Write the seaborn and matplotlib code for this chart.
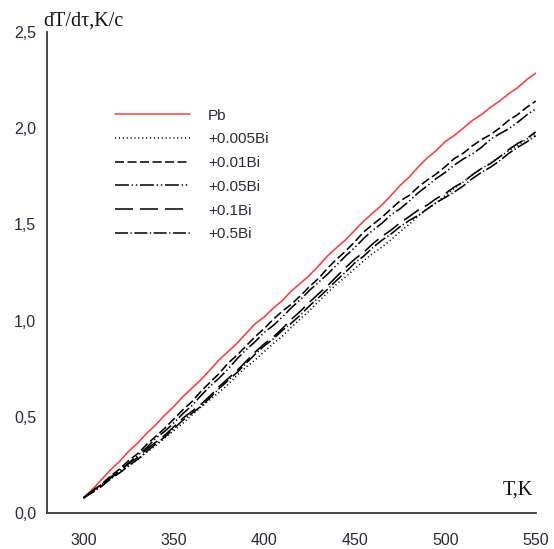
import matplotlib
matplotlib.use("Agg")
import matplotlib.pyplot as plt
import seaborn as sns
import pandas as pd
from matplotlib import font_manager as fm

# ---------------- data ----------------
T = [300, 305, 310, 315, 320, 325, 330, 335, 340, 345, 350, 355, 360, 365,
     370, 375, 380, 385, 390, 395, 400, 405, 410, 415, 420, 425, 430, 435,
     440, 445, 450, 455, 460, 465, 470, 475, 480, 485, 490, 495, 500, 505,
     510, 515, 520, 525, 530, 535, 540, 545, 550]

pb = [0.080, 0.125, 0.175, 0.226, 0.270, 0.322, 0.365, 0.416, 0.460, 0.510,
      0.555, 0.606, 0.650, 0.694, 0.745, 0.797, 0.840, 0.884, 0.935, 0.985,
      1.020, 1.066, 1.105, 1.155, 1.195, 1.236, 1.285, 1.337, 1.380, 1.421,
      1.470, 1.518, 1.560, 1.601, 1.650, 1.702, 1.745, 1.798, 1.845, 1.883,
      1.930, 1.962, 2.000, 2.040, 2.070, 2.108, 2.140, 2.178, 2.210, 2.251,
      2.285]
bi0005 = [0.080, 0.112, 0.150, 0.182, 0.210, 0.247, 0.280, 0.318, 0.350, 0.392,
          0.430, 0.468, 0.510, 0.552, 0.590, 0.628, 0.670, 0.718, 0.760, 0.797,
          0.840, 0.882, 0.920, 0.967, 1.010, 1.052, 1.100, 1.146, 1.190, 1.228,
          1.270, 1.312, 1.350, 1.382, 1.420, 1.462, 1.500, 1.543, 1.580, 1.612,
          1.650, 1.687, 1.720, 1.757, 1.790, 1.818, 1.850, 1.882, 1.910, 1.943,
          1.970]
bi001 = [0.080, 0.118, 0.150, 0.194, 0.230, 0.274, 0.310, 0.358, 0.400, 0.442,
         0.490, 0.538, 0.580, 0.634, 0.680, 0.726, 0.780, 0.822, 0.870, 0.918,
         0.960, 1.008, 1.050, 1.086, 1.130, 1.178, 1.220, 1.273, 1.320, 1.362,
         1.410, 1.462, 1.500, 1.537, 1.580, 1.622, 1.650, 1.694, 1.730, 1.762,
         1.800, 1.842, 1.870, 1.908, 1.940, 1.966, 2.000, 2.040, 2.070, 2.108,
         2.140]
bi005 = [0.080, 0.112, 0.150, 0.188, 0.220, 0.262, 0.300, 0.342, 0.390, 0.426,
         0.470, 0.518, 0.560, 0.612, 0.660, 0.702, 0.750, 0.803, 0.850, 0.892,
         0.940, 0.976, 1.020, 1.068, 1.110, 1.158, 1.200, 1.242, 1.290, 1.337,
         1.380, 1.428, 1.470, 1.506, 1.550, 1.581, 1.620, 1.664, 1.700, 1.738,
         1.770, 1.808, 1.840, 1.866, 1.900, 1.942, 1.970, 1.996, 2.030, 2.068,
         2.100]
bi01 = [0.080, 0.118, 0.150, 0.182, 0.220, 0.258, 0.290, 0.333, 0.370, 0.406,
        0.450, 0.494, 0.530, 0.566, 0.610, 0.658, 0.700, 0.742, 0.790, 0.838,
        0.880, 0.916, 0.960, 1.008, 1.050, 1.097, 1.140, 1.182, 1.230, 1.277,
        1.320, 1.356, 1.400, 1.438, 1.470, 1.508, 1.540, 1.574, 1.600, 1.634,
        1.660, 1.694, 1.720, 1.758, 1.790, 1.816, 1.850, 1.888, 1.920, 1.946,
        1.980]
bi05 = [0.080, 0.108, 0.140, 0.178, 0.210, 0.247, 0.280, 0.322, 0.360, 0.397,
        0.440, 0.484, 0.520, 0.556, 0.600, 0.648, 0.690, 0.732, 0.780, 0.827,
        0.870, 0.906, 0.950, 0.988, 1.030, 1.078, 1.120, 1.164, 1.210, 1.253,
        1.300, 1.336, 1.380, 1.418, 1.450, 1.488, 1.520, 1.546, 1.580, 1.613,
        1.640, 1.668, 1.700, 1.738, 1.770, 1.797, 1.830, 1.868, 1.900, 1.928,
        1.960]

series_names = ["Pb", "+0.005Bi", "+0.01Bi", "+0.05Bi", "+0.1Bi", "+0.5Bi"]
series_vals = [pb, bi0005, bi001, bi005, bi01, bi05]

xticks = [300, 350, 400, 450, 500, 550]
xticklabels = ["300", "350", "400", "450", "500", "550"]
yticks = [0.0, 0.5, 1.0, 1.5, 2.0, 2.5]
yticklabels = ["0,0", "0,5", "1,0", "1,5", "2,0", "2,5"]

rows = []
for name, vals in zip(series_names, series_vals):
    for t, v in zip(T, vals):
        rows.append({"T": t, "v": v, "s": name})
df = pd.DataFrame(rows)

# ---------------- style ----------------
sns.set_style("white")
names = {f.name for f in fm.fontManager.ttflist}
narrow = "Liberation Sans Narrow" if "Liberation Sans Narrow" in names else "Liberation Sans"
plt.rcParams["font.family"] = [narrow, "DejaVu Sans"]
plt.rcParams["lines.scale_dashes"] = False

W, H = 554, 549
fig = plt.figure(figsize=(W / 100, H / 100), dpi=100)
ax = fig.add_axes([47.3 / W, 1 - 513.3 / H, (535.7 - 47.3) / W, (513.3 - 31.8) / H])

palette = {"Pb": "#ff3b3b", "+0.005Bi": "black", "+0.01Bi": "black",
           "+0.05Bi": "black", "+0.1Bi": "black", "+0.5Bi": "black"}
dashes = {"Pb": "",
          "+0.005Bi": (0.8, 2.0),
          "+0.01Bi": (6.5, 2.5),
          "+0.05Bi": (10, 2, 1, 2, 1, 2),
          "+0.1Bi": (13, 5),
          "+0.5Bi": (9.4, 1.8, 0.9, 1.8)}

sns.lineplot(data=df, x="T", y="v", hue="s", style="s", hue_order=series_names,
             style_order=series_names, palette=palette, dashes=dashes,
             linewidth=1.15, ax=ax, legend=True, sort=False)

ax.set_xlim(280, 550)
ax.set_ylim(0, 2.5)
ax.set_xticks(xticks)
ax.set_xticklabels(xticklabels)
ax.set_yticks(yticks)
ax.set_yticklabels(yticklabels)
ax.set_xlabel("")
ax.set_ylabel("")

for side in ["top", "right"]:
    ax.spines[side].set_visible(False)
for side in ["left", "bottom"]:
    ax.spines[side].set_color("#3a3a3a")
    ax.spines[side].set_linewidth(1.3)

ax.tick_params(axis="both", colors="#3a3a3a", labelcolor="#2b2b3c",
               labelsize=11.5, width=1.2, direction="out")
ax.tick_params(axis="x", length=6, pad=8)
ax.tick_params(axis="y", length=4, pad=4)

h, l = ax.get_legend_handles_labels()
for hh in h:
    hh.set_linewidth(1.1)
leg = ax.legend(h, l, loc="upper left", bbox_to_anchor=(115 / W, 1 - 108.5 / H),
                bbox_transform=fig.transFigure, frameon=False, fontsize=11,
                handlelength=4.9, handletextpad=1.2, labelspacing=0.64,
                borderpad=0, borderaxespad=0)
for t in leg.get_texts():
    t.set_color("#2b2b3c")

fig.text(43 / W, 1 - 26 / H, "dT/dτ,K/c", family=["Liberation Serif", "DejaVu Serif"],
         fontsize=14.5, color="#111111", ha="left", va="baseline")
fig.text(533 / W, 1 - 495 / H, "T,K", family=["Liberation Serif", "DejaVu Serif"],
         fontsize=14.5, color="#111111", ha="right", va="baseline")

fig.savefig("out.png", dpi=100)
